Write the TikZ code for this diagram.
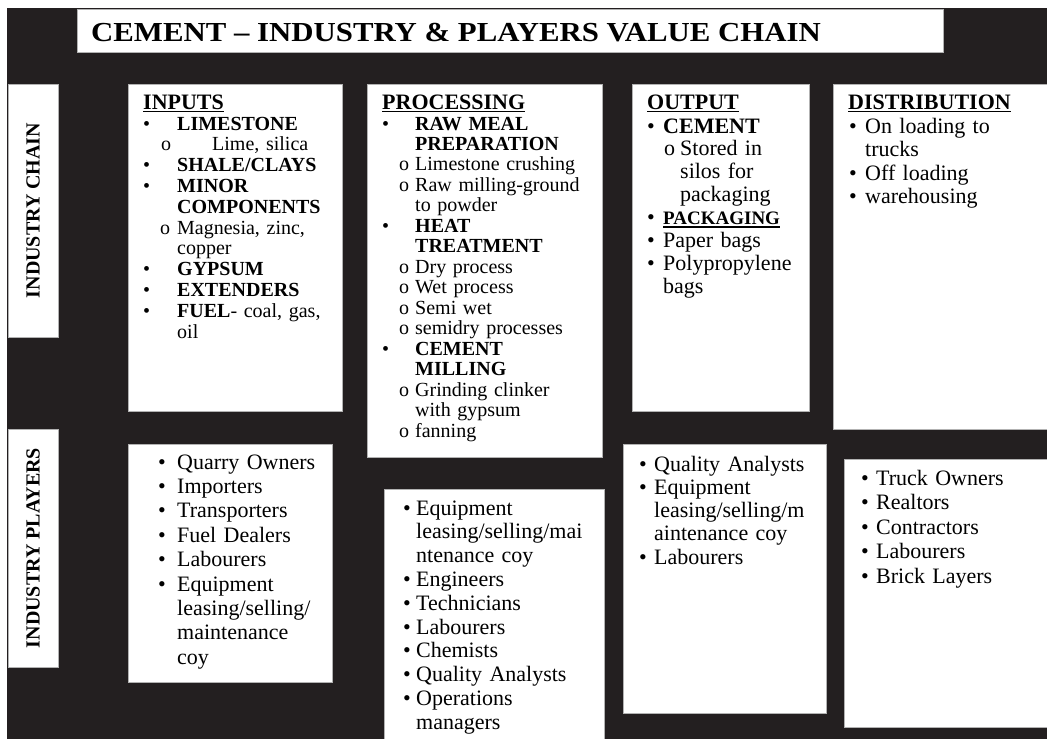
\documentclass[tikz,border=0pt]{standalone}
\usepackage{fontspec}
\setmainfont{Liberation Serif}
\newfontfamily\titlefont[FakeStretch=1.12]{Liberation Serif}
\definecolor{bg}{RGB}{35,31,32}
\setlength\parindent{0pt}
\newcommand\Bl[3]{\noindent\makebox[#2pt][l]{\hspace*{#1pt}\textbullet}#3\par}
\newcommand\Ol[3]{\noindent\makebox[#2pt][l]{\hspace*{#1pt}o}#3\par}
\newcommand\Cl[2]{\noindent\hspace*{#1pt}#2\par}
\newcommand\ulin[1]{\setbox0\hbox{#1}\rlap{\rule[-3pt]{\wd0}{1.4pt}}\box0}
\begin{document}
\begin{tikzpicture}[x=1pt,y=-1pt,
  panel/.style={draw=gray!60, line width=0.6pt, fill=white, anchor=north west, inner sep=0pt, outer sep=0pt},
  head/.style={anchor=base west, inner sep=0pt, font=\fontsize{22}{24}\selectfont\bfseries},
  body/.style={anchor=base west, inner sep=0pt, align=left, text width=#1},
  vlabel/.style={rotate=90, inner sep=0pt, font=\fontsize{20}{22}\selectfont\bfseries}]
\useasboundingbox (0,0) rectangle (1047,739);
\fill[bg] (7,8) rectangle (1047,739);
% title
\node[panel, minimum width=866pt, minimum height=43pt] (titlebox) at (77,9) {};
\node[anchor=base west, inner sep=0pt, font=\titlefont\fontsize{27.5}{30}\selectfont\bfseries] (title) at (91,41) {CEMENT \textendash{} INDUSTRY \& PLAYERS VALUE CHAIN};
% side labels
\node[panel, minimum width=50pt, minimum height=253pt] (chainbox) at (8,84) {};
\node[vlabel] (chainlbl) at (33,210.5) {INDUSTRY CHAIN};
\node[panel, minimum width=50pt, minimum height=238pt] (playbox) at (8,429) {};
\node[vlabel] (playlbl) at (33,548) {INDUSTRY PLAYERS};
% chain panels
\node[panel, minimum width=214pt, minimum height=327pt] (inputs) at (128,84) {};
\node[panel, minimum width=235pt, minimum height=373pt] (processing) at (367,84) {};
\node[panel, minimum width=177pt, minimum height=327pt] (output) at (632,84) {};
\node[panel, minimum width=216pt, minimum height=345pt] (distribution) at (833,84) {};
% player panels
\node[panel, minimum width=204pt, minimum height=238pt] (pl1) at (128,444) {};
\node[panel, minimum width=220pt, minimum height=252pt] (pl2) at (384,489) {};
\node[panel, minimum width=203pt, minimum height=269pt] (pl3) at (623,444) {};
\node[panel, minimum width=205pt, minimum height=268pt] (pl4) at (844,459) {};
% headings
\node[head] (hin) at (143,109) {\ulin{INPUTS}};
\node[head] (hpr) at (382,109) {\ulin{PROCESSING}};
\node[head] (hout) at (647,109) {\ulin{OUTPUT}};
\node[head] (hdis) at (848,109) {\ulin{DISTRIBUTION}};
% inputs
\node[body=214pt, font=\fontsize{20}{20.8}\selectfont] (tin) at (128,130) {%
\Bl{15}{49}{\textbf{LIMESTONE}}%
\Ol{33}{84}{Lime, silica}%
\Bl{15}{49}{\textbf{SHALE/CLAYS}}%
\Bl{15}{49}{\textbf{MINOR}}%
\Cl{49}{\textbf{COMPONENTS}}%
\Ol{32}{49}{Magnesia, zinc,}%
\Cl{49}{copper}%
\Bl{15}{49}{\textbf{GYPSUM}}%
\Bl{15}{49}{\textbf{EXTENDERS}}%
\Bl{15}{49}{\textbf{FUEL}- coal, gas,}%
\Cl{49}{oil}};
% processing
\node[body=235pt, font=\fontsize{20}{20.47}\selectfont] (tpr) at (367,130) {%
\Bl{15}{48}{\textbf{RAW MEAL}}%
\Cl{48}{\textbf{PREPARATION}}%
\Ol{32}{48}{Limestone crushing}%
\Ol{32}{48}{Raw milling-ground}%
\Cl{48}{to powder}%
\Bl{15}{48}{\textbf{HEAT}}%
\Cl{48}{\textbf{TREATMENT}}%
\Ol{32}{48}{Dry process}%
\Ol{32}{48}{Wet process}%
\Ol{32}{48}{Semi wet}%
\Ol{32}{48}{semidry processes}%
\Bl{15}{48}{\textbf{CEMENT}}%
\Cl{48}{\textbf{MILLING}}%
\Ol{32}{48}{Grinding clinker}%
\Cl{48}{with gypsum}%
\Ol{32}{48}{fanning}};
% output
\node[body=177pt, font=\fontsize{22}{22.9}\selectfont] (tout) at (632,133) {%
\Bl{15}{31}{\textbf{CEMENT}}%
\Ol{32}{48}{Stored in}%
\Cl{48}{silos for}%
\Cl{48}{packaging}%
\Bl{15}{31}{{\fontsize{19}{20}\selectfont\bfseries\ulin{PACKAGING}}}%
\Bl{15}{31}{Paper bags}%
\Bl{15}{31}{Polypropylene}%
\Cl{31}{bags}};
% distribution
\node[body=214pt, font=\fontsize{22}{23.6}\selectfont] (tdis) at (833,133) {%
\Bl{16}{32}{On loading to}%
\Cl{32}{trucks}%
\Bl{16}{32}{Off loading}%
\Bl{16}{32}{warehousing}};
% players 1
\node[body=204pt, font=\fontsize{22}{24.4}\selectfont] (tp1) at (128,469) {%
\Bl{30}{49}{Quarry Owners}%
\Bl{30}{49}{Importers}%
\Bl{30}{49}{Transporters}%
\Bl{30}{49}{Fuel Dealers}%
\Bl{30}{49}{Labourers}%
\Bl{30}{49}{Equipment}%
\Cl{49}{leasing/selling/}%
\Cl{49}{maintenance}%
\Cl{49}{coy}};
% players 2
\node[body=220pt, font=\fontsize{22}{23.8}\selectfont] (tp2) at (384,515) {%
\Bl{19}{32}{Equipment}%
\Cl{32}{leasing/selling/mai}%
\Cl{32}{ntenance coy}%
\Bl{19}{32}{Engineers}%
\Bl{19}{32}{Technicians}%
\Bl{19}{32}{Labourers}%
\Bl{19}{32}{Chemists}%
\Bl{19}{32}{Quality Analysts}%
\Bl{19}{32}{Operations}%
\Cl{32}{managers}};
% players 3
\node[body=203pt, font=\fontsize{22}{23.3}\selectfont] (tp3) at (623,471) {%
\Bl{16}{31}{Quality Analysts}%
\Bl{16}{31}{Equipment}%
\Cl{31}{leasing/selling/m}%
\Cl{31}{aintenance coy}%
\Bl{16}{31}{Labourers}};
% players 4
\node[body=205pt, font=\fontsize{22}{24.5}\selectfont] (tp4) at (844,485) {%
\Bl{17}{32}{Truck Owners}%
\Bl{17}{32}{Realtors}%
\Bl{17}{32}{Contractors}%
\Bl{17}{32}{Labourers}%
\Bl{17}{32}{Brick Layers}};
\end{tikzpicture}
\end{document}
